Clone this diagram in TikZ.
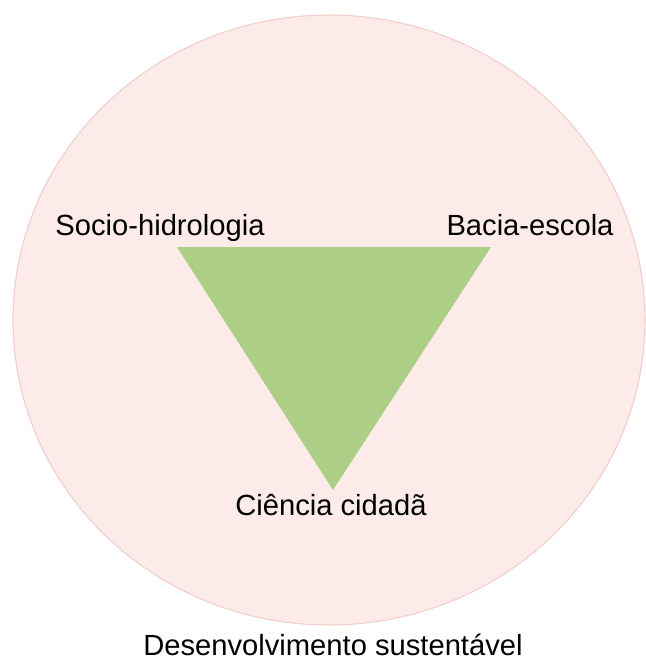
\documentclass[tikz,border=0pt]{standalone}
\usepackage{fontspec}
\setmainfont{Liberation Sans}
\usepackage{tikz}
\usetikzlibrary{positioning}
\definecolor{rosa}{RGB}{253,235,233}
\definecolor{rosaborda}{RGB}{242,206,202}
\definecolor{verde}{RGB}{173,207,133}

\begin{document}
\begin{tikzpicture}[x=0.02cm, y=-0.02cm, font=\fontsize{16.6pt}{19pt}\selectfont,
    rotulo/.style={anchor=base, inner sep=0pt}]
    \useasboundingbox (0,0) rectangle (646,664);
    % círculo
    \fill[rosa, draw=rosaborda, line width=0.6pt] (329,320) ellipse [x radius=316, y radius=305];
    % triângulo
    \coordinate (sh) at (177,247);
    \coordinate (be) at (491,247);
    \coordinate (cc) at (333,490);
    \fill[verde] (sh) -- (be) -- (cc) -- cycle;
    % rótulos
    \node[rotulo] (tsh) at (160,235) {Socio-hidrologia};
    \node[rotulo] (tbe) at (530,235) {Bacia-escola};
    \node[rotulo] (tcc) at (331,515) {Ciência cidadã};
    \node[rotulo] (tds) at (333,655) {Desenvolvimento sustentável};
\end{tikzpicture}
\end{document}
